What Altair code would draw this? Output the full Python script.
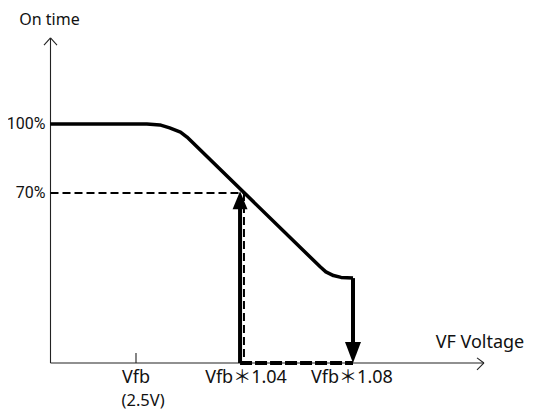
import altair as alt
import pandas as pd

# ---- data (voltage in V, on-time in %) ----
curve_v = [2.421, 2.510, 2.522, 2.531, 2.541, 2.547, 2.670, 2.675, 2.682, 2.689, 2.700]
curve_pct = [100, 100, 99.6, 98.3, 96.5, 94.3, 37.8, 35.7, 34.1, 33.3, 33.0]

axis_level = -3.9          # on-time value at the horizontal axis
y_axis_v = 2.4212          # voltage at the vertical axis
x_axis_end = 2.8207
y_axis_top = 137.4

v_up = 2.5959              # solid up-arrow position
v_dash = 2.5995            # dashed guide (Vfb*1.04)
v_down = 2.700             # Vfb*1.08
pct_70 = 70.0
up_tip = 70.8
up_base = 63.0
down_base = 5.0

tick_labels = ["Vfb", "(2.5V)", "Vfb＊1.04", "Vfb＊1.08"]
tick_label_v = [2.5, 2.5065, 2.6014, 2.699]
tick_label_pct = [-10.4, -20.4, -10.4, -10.4]

y_labels = ["100%", "70%"]
y_label_pct = [100, 70]

xdom = [2.38203, 2.86682]
ydom = [-24.78, 150.43]

X = lambda f: alt.X(f, type="quantitative", scale=alt.Scale(domain=xdom, nice=False, zero=False), axis=None)
Y = lambda f: alt.Y(f, type="quantitative", scale=alt.Scale(domain=ydom, nice=False, zero=False), axis=None)

def segs(rows):
    return pd.DataFrame(rows, columns=["x", "y", "x2", "y2"])

# thin axes with open arrowheads
axes_df = segs([
    [y_axis_v, axis_level, x_axis_end, axis_level],
    [y_axis_v, axis_level, y_axis_v, y_axis_top],
    [y_axis_v, y_axis_top, 2.4152, 134.3],
    [y_axis_v, y_axis_top, 2.4272, 134.3],
    [x_axis_end, axis_level, 2.8143, -1.7],
    [x_axis_end, axis_level, 2.8143, -6.9],
    [2.5, axis_level, 2.5, 0.43],
])
axes = alt.Chart(axes_df).mark_rule(color="#222", strokeWidth=1.1).encode(
    x=X("x"), y=Y("y"), x2="x2", y2="y2")

curve_df = pd.DataFrame({"v": curve_v, "p": curve_pct, "o": range(len(curve_v))})
curve = alt.Chart(curve_df).mark_line(color="#000", strokeWidth=3.5, strokeJoin="round").encode(
    x=X("v"), y=Y("p"), order="o")

thick_df = segs([
    [v_down, curve_pct[-1], v_down, down_base],
    [v_up, axis_level, v_up, up_base],
])
thick = alt.Chart(thick_df).mark_rule(color="#000", strokeWidth=4).encode(
    x=X("x"), y=Y("y"), x2="x2", y2="y2")

dash_df = segs([
    [y_axis_v, pct_70, v_dash, pct_70],
    [v_dash, pct_70, v_dash, axis_level],
])
dashed = alt.Chart(dash_df).mark_rule(color="#000", strokeWidth=2, strokeDash=[8, 4]).encode(
    x=X("x"), y=Y("y"), x2="x2", y2="y2")

bottom_df = segs([[v_up, axis_level, v_down, axis_level]])
bottom = alt.Chart(bottom_df).mark_rule(color="#000", strokeWidth=4, strokeDash=[12, 3]).encode(
    x=X("x"), y=Y("y"), x2="x2", y2="y2")

up_head = alt.Chart(pd.DataFrame({"x": [v_up], "y": [up_tip]})).mark_point(
    shape="M0,0 L-0.83,2 L0.83,2 Z", size=324, filled=True, color="#000", opacity=1
).encode(x=X("x"), y=Y("y"))
down_head = alt.Chart(pd.DataFrame({"x": [v_down], "y": [axis_level]})).mark_point(
    shape="M0,0 L-0.76,-2 L0.76,-2 Z", size=441, filled=True, color="#000", opacity=1
).encode(x=X("x"), y=Y("y"))

font = "Noto Sans, Noto Sans CJK JP"
tick_df = pd.DataFrame({"x": tick_label_v, "y": tick_label_pct, "t": tick_labels,
                        "s": [18, 16.5, 18, 18]})
tick_text = alt.Chart(tick_df).mark_text(font=font, color="#111", align="center", baseline="middle").encode(
    x=X("x"), y=Y("y"), text="t", size=alt.Size("s:Q", scale=None, legend=None))

ylab_df = pd.DataFrame({"x": [2.4166] * 2, "y": y_label_pct, "t": y_labels})
ylab = alt.Chart(ylab_df).mark_text(font="Roboto", fontSize=16, color="#111", align="right", baseline="middle").encode(
    x=X("x"), y=Y("y"), text="t")

titles_df = pd.DataFrame({"x": [2.817, 2.4203], "y": [4.8, 145.4], "t": ["VF Voltage", "On time"],
                          "s": [18, 16]})
titles = alt.Chart(titles_df).mark_text(font=font, color="#111", align="center", baseline="middle").encode(
    x=X("x"), y=Y("y"), text="t", size=alt.Size("s:Q", scale=None, legend=None))

chart = alt.layer(axes, dashed, bottom, thick, curve, up_head, down_head, tick_text, ylab, titles).properties(
    width=526, height=403, autosize=alt.AutoSizeParams(type="none"), padding=0
).configure_view(stroke=None)

chart.save("out.html", embed_options={"renderer": "svg", "actions": False})
